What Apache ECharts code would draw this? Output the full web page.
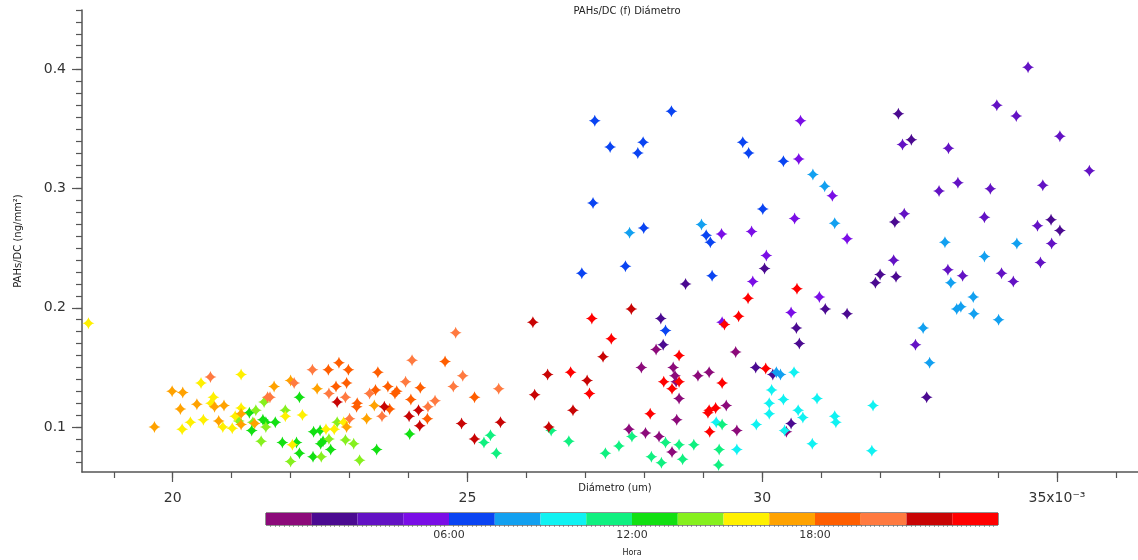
<!DOCTYPE html>
<html><head><meta charset="utf-8">
<script src="https://cdn.jsdelivr.net/npm/echarts@6/dist/echarts.min.js"></script>
<style>html,body{margin:0;padding:0;background:#fff}#c{width:1138px;height:560px}</style>
</head><body><div id="c"></div>
<script>
// Diameter (x10^-3 um), PAHs/DC (ng/mm2), hour of day
const nightPoints = [
  [28.20,0.165,0.75],[27.95,0.150,0.75],[28.49,0.150,0.75],[28.52,0.143,0.75],[28.54,0.138,0.75],[28.59,0.124,0.75],
  [28.91,0.143,0.75],[29.10,0.146,0.75],[29.55,0.163,0.75],[30.41,0.096,0.75],[29.57,0.097,0.75],[29.39,0.118,0.75],
  [28.47,0.079,0.75],[28.25,0.092,0.75],[28.02,0.095,0.75],[27.74,0.098,0.75],[28.55,0.106,0.75],
  [28.70,0.220,2.25],[30.04,0.233,2.25],[28.28,0.191,2.25],[28.32,0.169,2.25],[29.89,0.150,2.25],[30.18,0.144,2.25],
  [30.49,0.103,2.25],[30.63,0.170,2.25],[31.07,0.199,2.25],[30.58,0.183,2.25],[31.44,0.195,2.25],[32.00,0.228,2.25],
  [31.92,0.221,2.25],[32.27,0.226,2.25],[32.79,0.125,2.25],[32.31,0.363,2.25],[32.53,0.341,2.25],[34.90,0.274,2.25],
  [35.05,0.265,2.25],[32.25,0.272,2.25],
  [32.23,0.240,3.75],[32.60,0.169,3.75],[33.15,0.232,3.75],[33.40,0.227,3.75],[34.06,0.229,3.75],[34.26,0.222,3.75],
  [34.72,0.238,3.75],[34.51,0.402,3.75],[33.98,0.370,3.75],[34.31,0.361,3.75],[32.38,0.337,3.75],[33.16,0.334,3.75],
  [35.05,0.344,3.75],[35.55,0.315,3.75],[34.76,0.303,3.75],[33.00,0.298,3.75],[33.32,0.305,3.75],[33.87,0.300,3.75],
  [33.77,0.276,3.75],[34.67,0.269,3.75],[34.91,0.254,3.75],[32.41,0.279,3.75],
  [30.07,0.244,5.25],[29.84,0.222,5.25],[29.32,0.188,5.25],[30.97,0.209,5.25],[30.49,0.196,5.25],[29.31,0.262,5.25],
  [29.82,0.264,5.25],[30.65,0.357,5.25],[30.62,0.325,5.25],[31.19,0.294,5.25],[30.55,0.275,5.25],[31.44,0.258,5.25]
];
const morningPoints = [
  [26.94,0.229,6.75],[27.68,0.235,6.75],[29.15,0.227,6.75],[28.36,0.181,6.75],[27.16,0.357,6.75],[28.46,0.365,6.75],
  [27.42,0.335,6.75],[27.98,0.339,6.75],[27.89,0.330,6.75],[27.13,0.288,6.75],[27.99,0.267,6.75],[29.05,0.261,6.75],
  [29.12,0.255,6.75],[30.01,0.283,6.75],[29.67,0.339,6.75],[29.77,0.330,6.75],[30.36,0.323,6.75],
  [30.24,0.146,8.25],[30.31,0.144,8.25],[32.73,0.183,8.25],[32.84,0.154,8.25],[33.20,0.221,8.25],[33.58,0.209,8.25],
  [33.30,0.199,8.25],[33.37,0.201,8.25],[33.59,0.195,8.25],[33.77,0.243,8.25],[34.01,0.190,8.25],[27.75,0.263,8.25],
  [28.97,0.270,8.25],[30.86,0.312,8.25],[31.06,0.302,8.25],[31.23,0.271,8.25],[34.32,0.254,8.25],[33.10,0.255,8.25],
  [30.54,0.146,9.75],[30.16,0.131,9.75],[30.12,0.120,9.75],[30.12,0.111,9.75],[30.61,0.114,9.75],[29.90,0.102,9.75],
  [29.22,0.104,9.75],[29.57,0.081,9.75],[30.36,0.123,9.75],[30.93,0.124,9.75],[30.69,0.108,9.75],[30.38,0.097,9.75],
  [31.23,0.109,9.75],[31.25,0.104,9.75],[30.85,0.086,9.75],[31.88,0.118,9.75],[31.86,0.080,9.75],
  [29.32,0.102,11.25],[29.27,0.081,11.25],[29.26,0.068,11.25],[28.84,0.085,11.25],[28.59,0.085,11.25],[28.65,0.073,11.25],
  [28.36,0.087,11.25],[28.29,0.070,11.25],[28.12,0.075,11.25],[27.79,0.092,11.25],[27.57,0.084,11.25],[27.34,0.078,11.25],
  [26.72,0.088,11.25],[26.42,0.097,11.25],[25.39,0.093,11.25],[25.28,0.087,11.25],[25.49,0.078,11.25]
];
const afternoonPoints = [
  [21.30,0.112,12.75],[21.34,0.097,12.75],[21.53,0.106,12.75],[21.58,0.104,12.75],[21.74,0.104,12.75],[21.86,0.087,12.75],
  [22.15,0.125,12.75],[22.10,0.087,12.75],[22.15,0.078,12.75],[22.38,0.075,12.75],[22.39,0.096,12.75],[22.51,0.086,12.75],
  [22.55,0.088,12.75],[22.50,0.097,12.75],[22.68,0.081,12.75],[23.46,0.081,12.75],[24.02,0.094,12.75],
  [21.12,0.105,14.25],[21.41,0.114,14.25],[21.36,0.104,14.25],[21.58,0.100,14.25],[21.55,0.121,14.25],[21.50,0.088,14.25],
  [21.91,0.114,14.25],[22.00,0.071,14.25],[22.52,0.075,14.25],[22.65,0.090,14.25],[22.79,0.104,14.25],[22.93,0.089,14.25],
  [23.07,0.086,14.25],[23.17,0.072,14.25],
  [18.57,0.187,15.75],[20.16,0.098,15.75],[20.30,0.104,15.75],[20.48,0.137,15.75],[20.52,0.106,15.75],[20.69,0.125,15.75],
  [20.65,0.120,15.75],[20.85,0.100,15.75],[21.01,0.099,15.75],[21.16,0.144,15.75],[21.16,0.116,15.75],[21.06,0.109,15.75],
  [21.91,0.109,15.75],[22.03,0.085,15.75],[22.20,0.110,15.75],[22.60,0.098,15.75],[22.74,0.098,15.75],[22.90,0.104,15.75],
  [19.69,0.100,17.25],[19.99,0.130,17.25],[20.17,0.129,17.25],[20.13,0.115,17.25],[20.41,0.119,17.25],[20.71,0.117,17.25],
  [20.87,0.118,17.25],[20.78,0.105,17.25],[21.16,0.111,17.25],[21.16,0.102,17.25],[21.39,0.103,17.25],[21.72,0.134,17.25],
  [22.00,0.139,17.25],[22.45,0.132,17.25],[22.95,0.100,17.25],[23.29,0.107,17.25],[23.42,0.118,17.25]
];
const eveningPoints = [
  [22.64,0.148,18.75],[22.82,0.154,18.75],[22.98,0.148,18.75],[22.77,0.134,18.75],[22.95,0.137,18.75],[23.13,0.120,18.75],
  [23.12,0.117,18.75],[23.48,0.146,18.75],[23.44,0.131,18.75],[23.65,0.134,18.75],[23.68,0.115,18.75],[23.77,0.128,18.75],
  [24.62,0.155,18.75],[25.12,0.125,18.75],[23.80,0.130,18.75],[24.20,0.133,18.75],[24.04,0.123,18.75],[24.32,0.107,18.75],
  [20.64,0.142,20.25],[21.61,0.125,20.25],[21.65,0.125,20.25],[22.06,0.137,20.25],[22.37,0.148,20.25],[22.65,0.128,20.25],
  [22.93,0.125,20.25],[23.00,0.107,20.25],[23.34,0.128,20.25],[23.55,0.109,20.25],[24.80,0.179,20.25],[24.06,0.156,20.25],
  [24.92,0.143,20.25],[24.76,0.134,20.25],[25.53,0.132,20.25],[23.95,0.138,20.25],[24.45,0.122,20.25],[24.33,0.117,20.25],
  [22.79,0.121,21.75],[23.59,0.117,21.75],[24.17,0.114,21.75],[24.01,0.109,21.75],[24.19,0.101,21.75],[24.90,0.103,21.75],
  [25.56,0.104,21.75],[25.12,0.090,21.75],[27.78,0.199,21.75],[26.11,0.188,21.75],[27.30,0.159,21.75],[26.38,0.100,21.75],
  [26.79,0.114,21.75],[26.36,0.144,21.75],[26.14,0.127,21.75],[27.03,0.139,21.75],
  [30.59,0.216,23.25],[29.76,0.208,23.25],[29.60,0.193,23.25],[29.36,0.186,23.25],[27.11,0.191,23.25],[27.44,0.174,23.25],
  [28.59,0.160,23.25],[28.33,0.138,23.25],[28.59,0.138,23.25],[28.47,0.132,23.25],[29.32,0.137,23.25],[30.06,0.149,23.25],
  [29.10,0.114,23.25],[29.21,0.116,23.25],[29.08,0.112,23.25],[29.11,0.096,23.25],[28.10,0.111,23.25],[26.75,0.146,23.25],
  [27.07,0.128,23.25]
];
const hourEdges = [0,1.5,3,4.5,6,7.5,9,10.5,12,13.5,15,16.5,18,19.5,21,22.5,24];
const hourColors = ['#8c0a7a','#4b0a91','#6312c4','#7a0ee6','#0a44f2','#12a0f0','#10f2f2','#10f080',
                    '#12e012','#86f01e','#fff000','#ffa200','#ff5e00','#ff7a40','#c80404','#ff0000'];
const xMajorTicks = [20,25,30,35];
const xMinorTicks = [19,20,21,22,23,24,25,26,27,28,29,30,31,32,33,34,35,36];
const yMajorTicks = [0.1,0.2,0.3,0.4];
const yMinorTicks = [0.07,0.08,0.09,0.10,0.11,0.12,0.13,0.14,0.15,0.16,0.17,0.18,0.19,0.20,0.21,0.22,0.23,0.24,0.25,
                     0.26,0.27,0.28,0.29,0.30,0.31,0.32,0.33,0.34,0.35,0.36,0.37,0.38,0.39,0.40,0.41,0.42,0.43,0.44,0.45];
const hourTicks = [6,12,18];

const FONT = 'DejaVu Sans';
const X_MIN = 18.461, X_MAX = 36.375, Y_MIN = 0.0622, Y_MAX = 0.45;
const allPoints = nightPoints.concat(morningPoints, afternoonPoints, eveningPoints);
function colorForHour(h){
  for (let i = 0; i < hourColors.length; i++) if (h >= hourEdges[i] && h < hourEdges[i+1]) return hourColors[i];
  return hourColors[hourColors.length-1];
}
const bins = hourColors.map((c,i)=>[hourEdges[i], hourEdges[i+1]]);
const axisGray = '#555';
const chart = echarts.init(document.getElementById('c'), null, {renderer:'canvas'});
chart.setOption({
  animation:false,
  backgroundColor:'#fff',
  title:{text:'PAHs/DC (f) Diámetro', left:622, top:1, textAlign:'center',
    textStyle:{fontFamily:FONT, fontSize:10, fontWeight:'normal', color:'#222'}},
  grid:[
    {left:82, right:0, top:10, bottom:88, outerBoundsMode:'none', containLabel:false},
    {left:266, width:732, top:513, height:12, show:true, borderColor:'#222', borderWidth:1, outerBoundsMode:'none', containLabel:false}
  ],
  xAxis:[
    {type:'value', gridIndex:0, min:X_MIN, max:X_MAX, position:'bottom',
     name:'Diámetro (um)', nameLocation:'middle', nameGap:11, nameMoveOverlap:false,
     nameTextStyle:{fontFamily:FONT, fontSize:10, color:'#222', padding:[0,0,0,10]},
     axisLine:{show:true, lineStyle:{color:axisGray, width:1.5}},
     axisTick:{show:true, customValues:xMajorTicks, length:10, lineStyle:{color:axisGray, width:1.2}},
     axisLabel:{customValues:xMajorTicks, margin:19, fontFamily:FONT, fontSize:14, color:'#333',
       formatter:v => v === 35 ? '35x10⁻³' : String(v)},
     splitLine:{show:false}},
    {type:'value', gridIndex:0, min:X_MIN, max:X_MAX, position:'bottom',
     axisLine:{show:false}, axisLabel:{show:false}, splitLine:{show:false},
     axisTick:{show:true, customValues:xMinorTicks, length:6, lineStyle:{color:axisGray, width:1.2}}},
    {type:'value', gridIndex:1, min:0, max:24, interval:6, position:'bottom',
     axisLine:{show:false}, splitLine:{show:false},
     axisTick:{show:false},
     minorTick:{show:true, splitNumber:40, length:2, lineStyle:{color:'#666', width:0.6}},
     axisLabel:{margin:5, fontFamily:FONT, fontSize:11, color:'#333',
       formatter:v => hourTicks.indexOf(v) >= 0 ? (v < 10 ? '0' + v : String(v)) + ':00' : ''},
     name:'Hora', nameLocation:'middle', nameGap:24, nameMoveOverlap:false,
     nameTextStyle:{fontFamily:FONT, fontSize:8, color:'#222'}}
  ],
  yAxis:[
    {type:'value', gridIndex:0, min:Y_MIN, max:Y_MAX, position:'left',
     name:'PAHs/DC (ng/mm²)', nameLocation:'middle', nameGap:59, nameMoveOverlap:false,
     nameTextStyle:{fontFamily:FONT, fontSize:10, color:'#222'},
     axisLine:{show:true, lineStyle:{color:axisGray, width:1.5}},
     axisTick:{show:true, customValues:yMajorTicks, length:10, lineStyle:{color:axisGray, width:1.2}},
     axisLabel:{customValues:yMajorTicks, margin:16, fontFamily:FONT, fontSize:14, color:'#333',
       formatter:v => v.toFixed(1)},
     splitLine:{show:false}},
    {type:'value', gridIndex:0, min:Y_MIN, max:Y_MAX, position:'left',
     axisLine:{show:false}, axisLabel:{show:false}, splitLine:{show:false},
     axisTick:{show:true, customValues:yMinorTicks, length:6, lineStyle:{color:axisGray, width:1.2}}},
    {type:'value', gridIndex:1, min:0, max:1, show:false}
  ],
  series:[
    {type:'scatter', xAxisIndex:0, yAxisIndex:0, data:allPoints,
     symbol:'path://M0,-10 Q2.2,-2.2 10,0 Q2.2,2.2 0,10 Q-2.2,2.2 -10,0 Q-2.2,-2.2 0,-10 Z',
     symbolSize:12,
     itemStyle:{color:p => colorForHour(p.value[2]), opacity:1}},
    {type:'custom', xAxisIndex:2, yAxisIndex:2, data:bins,
     renderItem:(params, api) => {
       const a = api.coord([api.value(0), 1]);
       const b = api.coord([api.value(1), 0]);
       return {type:'rect', shape:{x:a[0], y:a[1], width:b[0]-a[0], height:b[1]-a[1]},
               style:{fill:hourColors[params.dataIndex], stroke:null}};
     }}
  ]
});
</script></body></html>
